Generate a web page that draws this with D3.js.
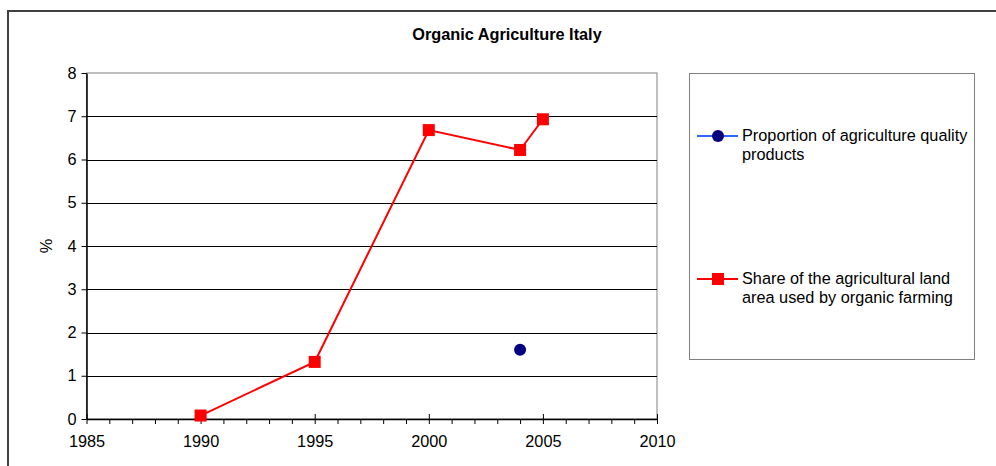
<!DOCTYPE html>
<html lang="en">
<head>
    <meta charset="UTF-8">
    <title>Organic Agriculture Italy</title>
    <style>
        body { margin: 0; background: #fff; }
        text { font-family: "Liberation Sans", Arial, sans-serif; fill: #000; }
    </style>
</head>
<body>
<div id="chart"></div>
<script src="https://cdn.jsdelivr.net/npm/d3@7"></script>
<script>
    // data
    var organicYears = [1990, 1995, 2000, 2004, 2005];
    var organicShare = [0.08, 1.32, 6.68, 6.22, 6.93];
    var qualityYears = [2004];
    var qualityShare = [1.6];
    var xTicks = [1985, 1990, 1995, 2000, 2005, 2010];
    var yTicks = [0, 1, 2, 3, 4, 5, 6, 7, 8];
    var legendLabels = [
        ["Proportion of agriculture quality", "products"],
        ["Share of the agricultural land", "area used by organic farming"]
    ];

    var width = 996, height = 466;
    var plotLeft = 86.5, plotRight = 657, plotTop = 73, plotBottom = 419;
    var fontSize = "16.3px";

    var svg = d3.select("#chart").append("svg")
        .attr("width", width)
        .attr("height", height);

    // outer frame (runs off the right and bottom)
    svg.append("rect")
        .attr("x", 8).attr("y", 11)
        .attr("width", 1100).attr("height", 600)
        .attr("fill", "none")
        .attr("stroke", "#404040")
        .attr("stroke-width", 2);

    var x = d3.scaleLinear().domain([1985, 2010]).range([plotLeft, plotRight]);
    var y = d3.scaleLinear().domain([0, 8]).range([plotBottom, plotTop]);

    svg.append("text")
        .attr("x", 507).attr("y", 40)
        .attr("text-anchor", "middle")
        .style("font-size", "16.3px")
        .style("font-weight", "bold")
        .text("Organic Agriculture Italy");

    // plot area border
    svg.append("rect")
        .attr("x", plotLeft).attr("y", plotTop)
        .attr("width", plotRight - plotLeft).attr("height", plotBottom - plotTop)
        .attr("fill", "none")
        .attr("stroke", "#808080")
        .attr("stroke-width", 1);

    // gridlines
    svg.selectAll("line.grid")
        .data(yTicks.filter(function (d) { return d > 0 && d < 8; }))
        .enter().append("line")
        .attr("class", "grid")
        .attr("x1", plotLeft).attr("x2", plotRight)
        .attr("y1", function (d) { return Math.round(y(d)) + 0.5; })
        .attr("y2", function (d) { return Math.round(y(d)) + 0.5; })
        .attr("stroke", "#000")
        .attr("stroke-width", 1);

    // y axis
    var yAxis = svg.append("g")
        .attr("transform", "translate(" + plotLeft + ",0)")
        .call(d3.axisLeft(y).tickValues(yTicks).tickSizeInner(5).tickSizeOuter(0).tickPadding(5));
    yAxis.select(".domain").attr("stroke", "#000").attr("stroke-width", 1.5);
    yAxis.selectAll("text").style("font-size", fontSize).style("font-family", "Liberation Sans, Arial, sans-serif");

    // x axis: minor ticks each year, majors cross
    var minorYears = d3.range(1985, 2011).filter(function (d) { return d % 5 !== 0; });
    var xAxisMinor = svg.append("g")
        .attr("transform", "translate(0," + plotBottom + ")")
        .call(d3.axisBottom(x).tickValues(minorYears).tickSize(5).tickFormat(""));
    xAxisMinor.select(".domain").remove();

    var xAxis = svg.append("g")
        .attr("transform", "translate(0," + plotBottom + ")")
        .call(d3.axisBottom(x).tickValues(xTicks).tickFormat(d3.format("d")).tickSizeInner(5).tickSizeOuter(0).tickPadding(11));
    xAxis.select(".domain").attr("stroke", "#000").attr("stroke-width", 1.5);
    xAxis.selectAll(".tick line").attr("y1", -5);
    xAxis.selectAll("text").style("font-size", fontSize).style("font-family", "Liberation Sans, Arial, sans-serif");

    svg.append("text")
        .attr("transform", "translate(52,246) rotate(-90)")
        .attr("text-anchor", "middle")
        .style("font-size", fontSize)
        .text("%");

    // organic series
    var organic = organicYears.map(function (d, i) { return [d, organicShare[i]]; });
    svg.append("path")
        .datum(organic)
        .attr("fill", "none")
        .attr("stroke", "#ff0000")
        .attr("stroke-width", 2)
        .attr("d", d3.line().x(function (d) { return x(d[0]); }).y(function (d) { return y(d[1]); }));
    svg.selectAll("rect.sq")
        .data(organic)
        .enter().append("rect")
        .attr("class", "sq")
        .attr("x", function (d) { return x(d[0]) - 6; })
        .attr("y", function (d) { return y(d[1]) - 6; })
        .attr("width", 12).attr("height", 12)
        .attr("fill", "#ff0000");

    // quality series
    var quality = qualityYears.map(function (d, i) { return [d, qualityShare[i]]; });
    svg.selectAll("circle.pt")
        .data(quality)
        .enter().append("circle")
        .attr("class", "pt")
        .attr("cx", function (d) { return x(d[0]); })
        .attr("cy", function (d) { return y(d[1]); })
        .attr("r", 6)
        .attr("fill", "#000080");

    // legend
    svg.append("rect")
        .attr("x", 689.5).attr("y", 73.5)
        .attr("width", 285).attr("height", 286)
        .attr("fill", "none")
        .attr("stroke", "#808080")
        .attr("stroke-width", 1);

    var legendY = [136, 279];
    var legendColors = ["#3366ff", "#ff0000"];
    legendLabels.forEach(function (lines, i) {
        var g = svg.append("g").attr("transform", "translate(0," + legendY[i] + ")");
        g.append("line")
            .attr("x1", 697).attr("x2", 738)
            .attr("y1", 0).attr("y2", 0)
            .attr("stroke", legendColors[i])
            .attr("stroke-width", 2);
        if (i === 0) {
            g.append("circle").attr("cx", 718).attr("cy", 0).attr("r", 6).attr("fill", "#000080");
        } else {
            g.append("rect").attr("x", 712).attr("y", -6).attr("width", 12).attr("height", 12).attr("fill", "#ff0000");
        }
        lines.forEach(function (t, j) {
            g.append("text")
                .attr("x", 742)
                .attr("y", j * 19 + 5)
                .style("font-size", fontSize)
                .text(t);
        });
    });
</script>
</body>
</html>
